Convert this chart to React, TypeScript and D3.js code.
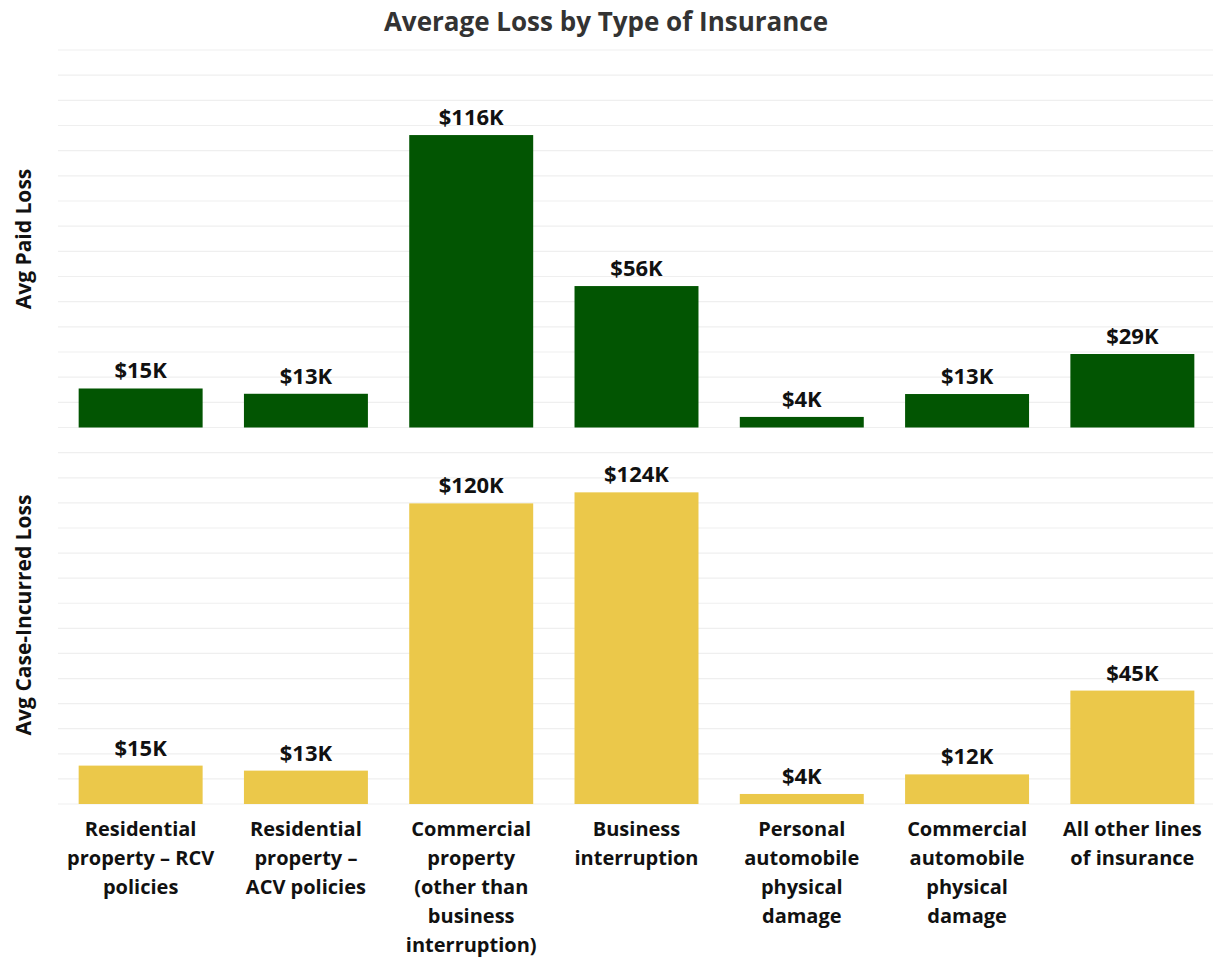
import React from "react";
import * as d3 from "d3";

const categories: string[][] = [
  ["Residential", "property – RCV", "policies"],
  ["Residential", "property –", "ACV policies"],
  ["Commercial", "property", "(other than", "business", "interruption)"],
  ["Business", "interruption"],
  ["Personal", "automobile", "physical", "damage"],
  ["Commercial", "automobile", "physical", "damage"],
  ["All other lines", "of insurance"],
];
const paidValues = [15.5, 13.4, 116.2, 56.2, 4.2, 13.3, 29.2];
const paidLabels = ["$15K", "$13K", "$116K", "$56K", "$4K", "$13K", "$29K"];
const incurredValues = [15.3, 13.3, 119.8, 124.2, 4.0, 11.8, 45.2];
const incurredLabels = ["$15K", "$13K", "$120K", "$124K", "$4K", "$12K", "$45K"];
const panelMaxes = [150, 140];
const axisTitles = ["Avg Paid Loss", "Avg Case-Incurred Loss"];
const title = "Average Loss by Type of Insurance";

const W = 1213;
const H = 957;
const FONT = "'Open Sans', 'DejaVu Sans', sans-serif";
const GREEN = "#025502";
const YELLOW = "#EBC84A";

export default function App() {
  const x = d3
    .scaleBand<number>()
    .domain(d3.range(categories.length))
    .range([58, 1215])
    .paddingInner(0.25)
    .paddingOuter(0.125);

  const panels = [
    { top: 50, bottom: 427.5, values: paidValues, labels: paidLabels, color: GREEN, max: panelMaxes[0], title: axisTitles[0], titleY: 239 },
    { top: 452.7, bottom: 804, values: incurredValues, labels: incurredLabels, color: YELLOW, max: panelMaxes[1], title: axisTitles[1], titleY: 615 },
  ];

  return (
    <svg
      width={W}
      height={H}
      style={{ position: "absolute", left: 0, top: 0, background: "#fff" }}
      fontFamily={FONT}
    >
      <text x={606} y={31} textAnchor="middle" fontSize={26} fontWeight={700} fill="#333">
        {title}
      </text>
      {panels.map((p, pi) => {
        const y = d3.scaleLinear().domain([0, p.max]).range([p.bottom, p.top]);
        const ticks = d3.range(0, p.max + 1, 10);
        return (
          <g key={pi}>
            {ticks.map((t) => (
              <line key={t} x1={58} x2={W} y1={y(t)} y2={y(t)} stroke="#efefef" strokeWidth={1.2} />
            ))}
            <text
              transform={`translate(31,${p.titleY}) rotate(-90)`}
              textAnchor="middle"
              fontSize={21}
              fontWeight={700}
              fill="#111"
            >
              {p.title}
            </text>
            {p.values.map((v, i) => (
              <g key={i}>
                <rect
                  x={x(i)!}
                  y={y(v)}
                  width={x.bandwidth()}
                  height={y(0) - y(v)}
                  fill={p.color}
                />
                <text
                  x={x(i)! + x.bandwidth() / 2}
                  y={y(v) - 10}
                  textAnchor="middle"
                  fontSize={22}
                  fontWeight={700}
                  fill="#111"
                >
                  {p.labels[i]}
                </text>
              </g>
            ))}
          </g>
        );
      })}
      {categories.map((lines, i) => (
        <text
          key={i}
          x={x(i)! + x.bandwidth() / 2}
          y={836}
          textAnchor="middle"
          fontSize={20}
          fontWeight={700}
          fill="#111"
        >
          {lines.map((l, j) => (
            <tspan key={j} x={x(i)! + x.bandwidth() / 2} dy={j === 0 ? 0 : 29}>
              {l}
            </tspan>
          ))}
        </text>
      ))}
    </svg>
  );
}
